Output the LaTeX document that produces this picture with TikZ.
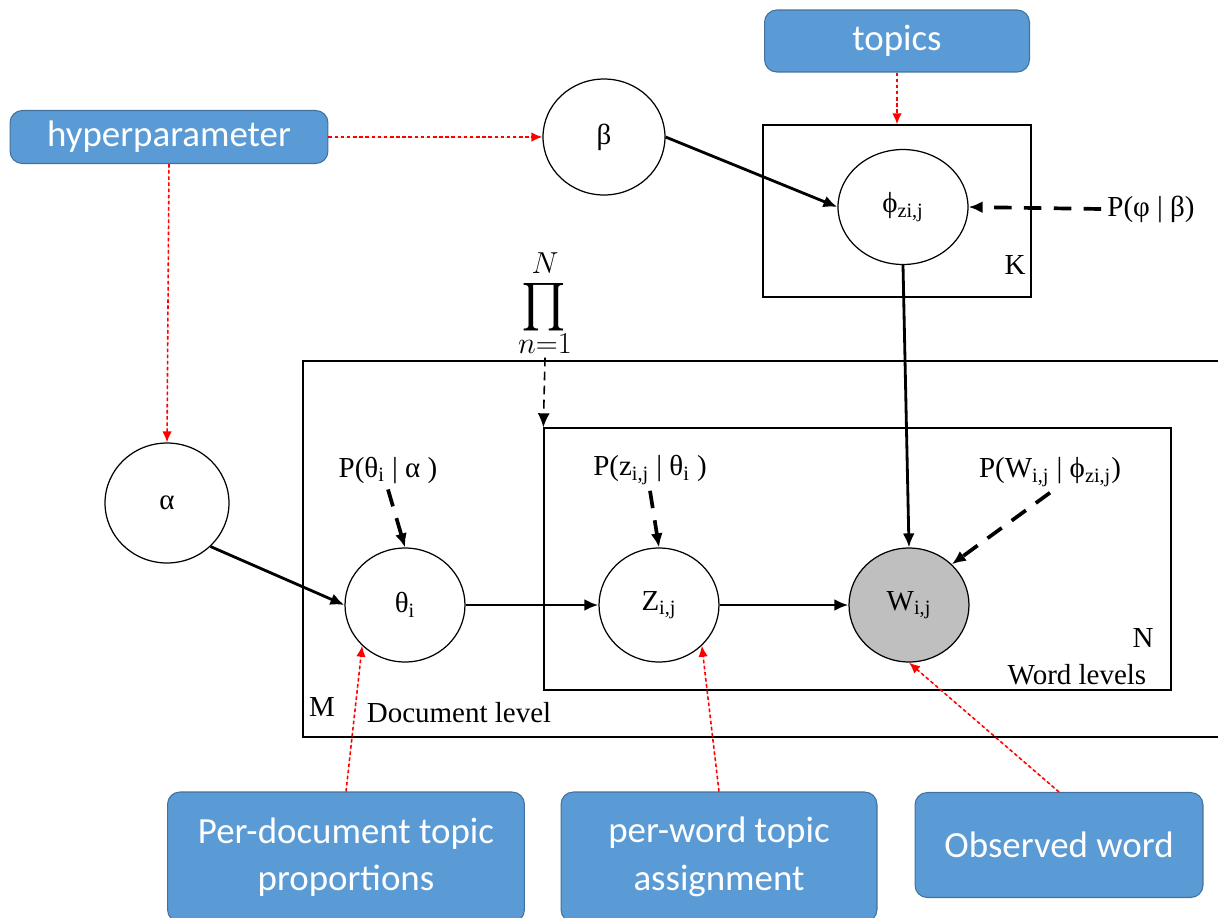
\documentclass[tikz,border=0pt]{standalone}
\usepackage{fontspec}
\setmainfont{Liberation Serif}
\newfontfamily\calloutfont{Carlito}
\usepackage{xcolor}
\definecolor{calloutBlue}{HTML}{5B9BD5}
\definecolor{calloutEdge}{HTML}{41719C}
\definecolor{observedGray}{HTML}{BFBFBF}
\definecolor{noteRed}{HTML}{FF0000}
\usepackage{tikz}
\usetikzlibrary{positioning,arrows.meta,shapes.geometric}

\begin{document}
\begin{tikzpicture}[x=0.02cm, y=-0.02cm,
    every node/.style={font=\fontsize{16.5}{19}\selectfont},
    callout/.style={draw=calloutEdge, fill=calloutBlue, rounded corners=7pt,
                    text=white, align=center, line width=0.6pt, inner sep=0pt,
                    font=\calloutfont\fontsize{21}{27}\selectfont},
    var/.style={ellipse, draw, line width=0.7pt, inner sep=0pt,
                minimum width=2.4cm, minimum height=2.28cm},
    obs/.style={var, fill=observedGray},
    plate/.style={draw, line width=0.8pt, inner sep=0pt},
    arr/.style={-{Latex[length=2.8mm, width=2.4mm]}, line width=1.6pt},
    cond/.style={arr, dash pattern=on 10pt off 7pt, line width=2.1pt},
    note/.style={-{Latex[length=2.2mm, width=1.9mm]}, draw=noteRed, fill=noteRed,
                 line width=0.9pt, dash pattern=on 2pt off 1.5pt}]
  \useasboundingbox (0,0) rectangle (1218,917);
  % plates
  \node[plate, minimum width=18.74cm, minimum height=7.52cm] (mbox) at (771.5,549) {};
  \node[plate, minimum width=12.54cm, minimum height=5.24cm] (nbox) at (857.5,559) {};
  \node[plate, minimum width=5.36cm, minimum height=3.44cm] (kbox) at (897,211) {};
  \node (mlab) at (322,707) {M};
  \node (doclev) at (459,713) {Document level};
  \node (nlab) at (1143,638) {N};
  \node (wordlev) at (1077,675) {Word levels};
  \node (klab) at (1015,265) {K};
  % variables
  \node[var, minimum width=2.44cm, minimum height=2.32cm] (beta) at (604,137) {β};
  \node[var, minimum width=2.6cm, minimum height=2.3cm] (phi) at (903,207) {ϕ\textsubscript{zi,j}};
  \node[var, minimum width=2.48cm, minimum height=2.4cm] (alpha) at (167,503) {α};
  \node[var] (theta) at (405,605) {θ\textsubscript{i}};
  \node[var] (z) at (659,605) {Z\textsubscript{i,j}};
  \node[obs] (w) at (909,605) {W\textsubscript{i,j}};
  % conditionals
  \node (pphi) at (1151,209) {P(φ | β)};
  \node (ptheta) at (388,470) {P(θ\textsubscript{i} | α )};
  \node (pz) at (650,470) {P(z\textsubscript{i,j} | θ\textsubscript{i} )};
  \node (pw) at (1050,472) {P(W\textsubscript{i,j} | ϕ\textsubscript{zi,j})};
  \node[inner sep=1pt] (prod) at (545,303)
    {$\mathop{\scalebox{2.7}{$\prod$}}\limits_{\scalebox{1.0}{$n{=}1$}}
      ^{\scalebox{1.0}{$N$}\rule[-5pt]{0pt}{0pt}}$};
  % callouts
  \node[callout, minimum width=5.3cm, minimum height=1.24cm] (topics) at (897,41) {topics};
  \node[callout, minimum width=6.36cm, minimum height=1.06cm] (hyper) at (169,137) {hyperparameter};
  \node[callout, minimum width=7.14cm, minimum height=2.6cm] (perdoc) at (346,857)
    {Per-document topic\\proportions};
  \node[callout, minimum width=6.32cm, minimum height=2.6cm] (perword) at (719,857)
    {per-word topic\\assignment};
  \node[callout, minimum width=5.76cm, minimum height=2.1cm] (observed) at (1059,845)
    {Observed word};
  % model edges
  \draw[arr] (beta.east) -- (phi.west);
  \draw[arr] (phi.south) -- (w.north);
  \draw[arr] (alpha.-45) -- (theta.west);
  \draw[arr] (theta.east) -- (z.west);
  \draw[arr] (z.east) -- (w.west);
  \draw[cond] (pphi.west) -- (phi.east);
  \draw[cond] (ptheta.south) -- (theta.north);
  \draw[cond] (pz.south) -- (z.north);
  \draw[cond] (pw.south) -- (w.north east);
  \draw[arr, dash pattern=on 5pt off 3pt, line width=0.9pt] (prod.south) -- (nbox.north west);
  % annotations
  \draw[note] (hyper.east) -- (beta.west);
  \draw[note] (hyper.south) -- (alpha.north);
  \draw[note] (topics.south) -- (kbox.north);
  \draw[note] (perdoc.north) -- (theta.south west);
  \draw[note] (perword.north) -- (z.south east);
  \draw[note] (observed.north) -- (w.south);
\end{tikzpicture}
\end{document}
